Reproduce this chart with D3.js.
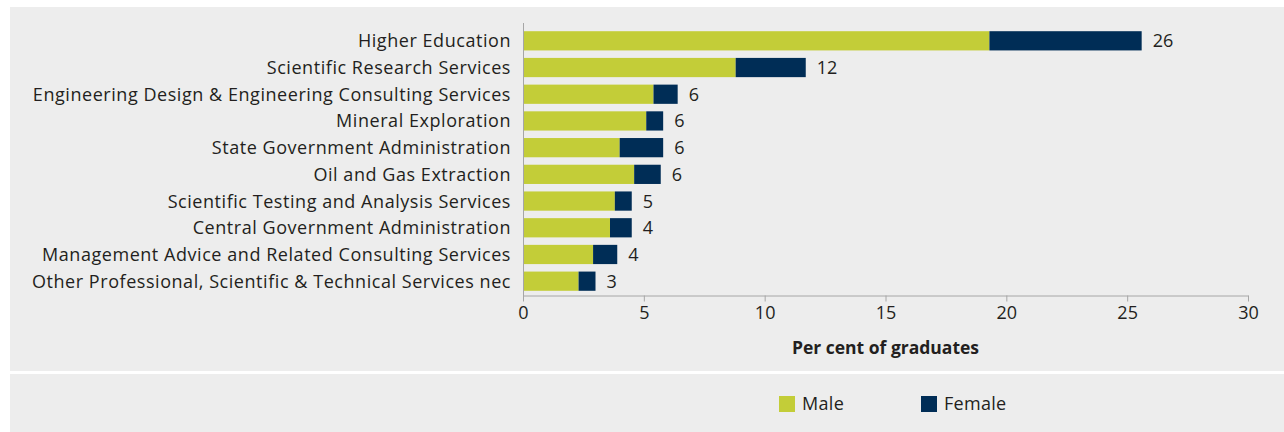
<!DOCTYPE html>
<html>
<head>
<meta charset="utf-8">
<script src="https://cdn.jsdelivr.net/npm/d3@7"></script>
<style>
  html, body { margin: 0; padding: 0; background: #fff; }
  text { font-family: "Open Sans", Lato, sans-serif; fill: #231f20; }
</style>
</head>
<body>
<div id="viz"></div>
<script>
const categories = [
  "Higher Education",
  "Scientific Research Services",
  "Engineering Design & Engineering Consulting Services",
  "Mineral Exploration",
  "State Government Administration",
  "Oil and Gas Extraction",
  "Scientific Testing and Analysis Services",
  "Central Government Administration",
  "Management Advice and Related Consulting Services",
  "Other Professional, Scientific & Technical Services nec"
];
const male = [19.3, 8.8, 5.4, 5.1, 4.0, 4.6, 3.8, 3.6, 2.9, 2.3];
const female = [6.3, 2.9, 1.0, 0.7, 1.8, 1.1, 0.7, 0.9, 1.0, 0.7];
const totals = [26, 12, 6, 6, 6, 6, 5, 4, 4, 3];
const xTicks = [0, 5, 10, 15, 20, 25, 30];
const seriesNames = ["Male", "Female"];
const colors = ["#c3cd38", "#002d56"];

const W = 1284, H = 432;
const FONT = 18;
const SPACING = "0.55px";
const svg = d3.select("#viz").append("svg")
  .attr("width", W).attr("height", H);

// panels
svg.append("rect").attr("x", 10).attr("y", 7).attr("width", W - 10).attr("height", 364).attr("fill", "#ededed");
svg.append("rect").attr("x", 10).attr("y", 374).attr("width", W - 10).attr("height", 58).attr("fill", "#ededed");

const x = d3.scaleLinear().domain([0, 30]).range([523, 1248]);
const y = d3.scaleBand().domain(categories).range([28, 294]).paddingInner(0.28).paddingOuter(0.12);

const rows = categories.map((c, i) => ({ cat: c, male: male[i], female: female[i], total: totals[i] }));
const stacked = d3.stack().keys(["male", "female"])(rows);

svg.append("g").selectAll("g")
  .data(stacked).join("g")
  .attr("fill", (d, i) => colors[i])
  .selectAll("rect")
  .data(d => d).join("rect")
  .attr("x", d => x(d[0]))
  .attr("width", d => x(d[1]) - x(d[0]))
  .attr("y", d => y(d.data.cat))
  .attr("height", y.bandwidth());

// value labels
svg.append("g").selectAll("text")
  .data(rows).join("text")
  .attr("x", d => x(d.male + d.female) + 11)
  .attr("y", d => y(d.cat) + y.bandwidth() / 2)
  .attr("dy", "0.36em")
  .attr("font-size", FONT)
  .text(d => d.total);

// category labels
svg.append("g").selectAll("text")
  .data(categories).join("text")
  .attr("x", 511)
  .attr("y", d => y(d) + y.bandwidth() / 2)
  .attr("dy", "0.36em")
  .attr("text-anchor", "end")
  .attr("font-size", FONT)
  .attr("letter-spacing", SPACING)
  .text(d => d);

// y axis line
svg.append("line")
  .attr("x1", 523.5).attr("x2", 523.5).attr("y1", 23).attr("y2", 296)
  .attr("stroke", "#a6a6a6");

// x axis
const xAxis = svg.append("g")
  .attr("transform", "translate(0,295.5)")
  .call(d3.axisBottom(x).tickValues(xTicks).tickSize(6).tickPadding(5).tickSizeOuter(0));
xAxis.select(".domain").attr("stroke", "#a6a6a6");
xAxis.selectAll(".tick line").attr("stroke", "#a6a6a6");
xAxis.selectAll(".tick text")
  .attr("font-size", FONT)
  .attr("font-family", "'Open Sans', Lato, sans-serif")
  .attr("fill", "#231f20");

svg.append("text")
  .attr("x", (x(0) + x(30)) / 2)
  .attr("y", 354)
  .attr("text-anchor", "middle")
  .attr("font-size", 17.5)
  .attr("font-weight", "bold")
  .text("Per cent of graduates");

// legend
const legendX = [779, 921];
const lg = svg.append("g").selectAll("g")
  .data(seriesNames).join("g")
  .attr("transform", (d, i) => `translate(${legendX[i]},396)`);
lg.append("rect").attr("width", 16).attr("height", 16).attr("fill", (d, i) => colors[i]);
lg.append("text").attr("x", 23).attr("y", 8).attr("dy", "0.36em")
  .attr("font-size", FONT).attr("letter-spacing", "0.3px").text(d => d);
</script>
</body>
</html>
